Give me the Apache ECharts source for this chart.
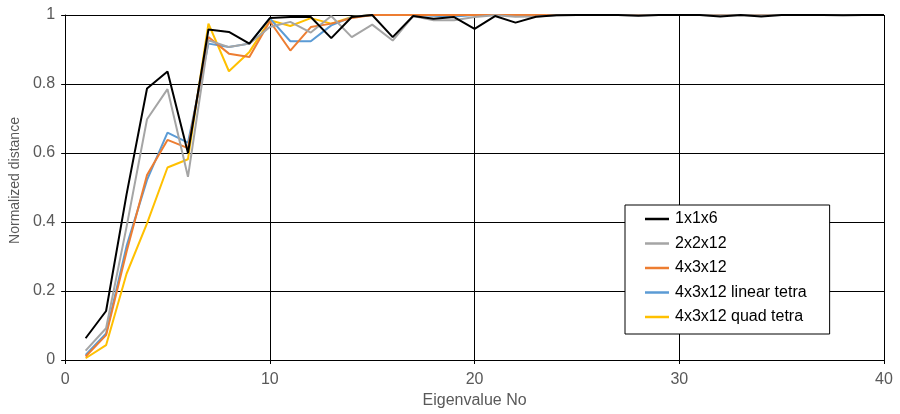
<!DOCTYPE html>
<html>
<head>
<meta charset="utf-8">
<script src="https://cdn.jsdelivr.net/npm/echarts@6/dist/echarts.min.js"></script>
<style>
  html, body { margin: 0; padding: 0; background: #fff; }
  #chart { width: 900px; height: 414px; }
</style>
</head>
<body>
<div id="chart"></div>
<script>
const eigenNo = [1,2,3,4,5,6,7,8,9,10,11,12,13,14,15,16,17,18,19,20,21,22,23,24,25,26,27,28,29,30,31,32,33,34,35,36,37,38,39,40];
const seriesNames = ['1x1x6', '2x2x12', '4x3x12', '4x3x12 linear tetra', '4x3x12 quad tetra'];
const s1x1x6 = [0.063,0.142,0.48,0.787,0.836,0.6,0.958,0.951,0.917,0.991,0.994,0.994,0.933,0.994,1.0,0.936,0.997,0.989,0.994,0.96,0.997,0.978,0.995,0.999,1,1,1,0.998,1,1,1,0.996,1,0.996,1,1,1,0.999,1,1];
const s2x2x12 = [0.027,0.092,0.386,0.698,0.785,0.531,0.927,0.907,0.917,0.965,0.98,0.949,0.997,0.936,0.972,0.926,0.997,0.985,0.985,0.994,0.999,0.995,0.996,0.999,1,1,1,0.999,1,1,1,0.999,1,0.999,1,1,1,1,1,1];
const s4x3x12 = [0.01,0.072,0.314,0.536,0.638,0.614,0.936,0.888,0.878,0.982,0.897,0.965,0.975,0.991,1,1,1,1,1,1,1,1,1,1,1,1,1,1,1,1,1,1,1,1,1,1,1,1,1,1];
const sLinear = [0.015,0.077,0.33,0.522,0.659,0.63,0.917,0.907,0.917,0.99,0.924,0.924,0.97,0.994,1,1,1,0.998,0.996,1,1,1,1,1,1,1,1,1,1,1,1,1,1,1,1,1,1,1,1,1];
const sQuad = [0.005,0.043,0.25,0.396,0.558,0.582,0.975,0.837,0.893,0.985,0.968,0.991,0.975,0.994,1,1,1,1,1,1,1,1,1,1,1,1,1,1,1,1,1,1,1,1,1,1,1,1,1,1];
const xTicks = [0, 10, 20, 30, 40];
const yTicks = [0, 0.2, 0.4, 0.6, 0.8, 1];

const colors = ['#000000', '#A5A5A5', '#ED7D31', '#5B9BD5', '#FFC000'];
const allData = [s1x1x6, s2x2x12, s4x3x12, sLinear, sQuad];
const font = 'Liberation Sans, Arial, sans-serif';
const textColor = '#595959';

const chart = echarts.init(document.getElementById('chart'), null, { renderer: 'canvas' });
chart.setOption({
  animation: false,
  backgroundColor: '#ffffff',
  grid: { left: 63, right: 16, top: 15, bottom: 54, containLabel: false },
  xAxis: {
    type: 'value', min: xTicks[0], max: xTicks[xTicks.length - 1], interval: 10,
    name: 'Eigenvalue No', nameLocation: 'middle', nameGap: 32,
    nameTextStyle: { fontFamily: font, fontSize: 16, color: textColor },
    axisLine: { show: true, lineStyle: { color: '#000', width: 1 } },
    axisTick: { show: true, length: 4, lineStyle: { color: '#000' } },
    axisLabel: { fontFamily: font, fontSize: 16, color: textColor, margin: 12 },
    splitLine: { show: true, lineStyle: { color: '#000', width: 1 } }
  },
  yAxis: {
    type: 'value', min: yTicks[0], max: yTicks[yTicks.length - 1], interval: 0.2,
    name: 'Normalized distance', nameLocation: 'middle', nameGap: 41,
    nameTextStyle: { fontFamily: font, fontSize: 14, color: textColor, padding: [0, 0, 0, 14] },
    axisLine: { show: true, lineStyle: { color: '#000', width: 1 } },
    axisTick: { show: true, length: 4, lineStyle: { color: '#000' } },
    axisLabel: { fontFamily: font, fontSize: 16, color: textColor, margin: 10,
      formatter: v => String(Math.round(v * 10) / 10) },
    splitLine: { show: true, lineStyle: { color: '#000', width: 1 } }
  },
  legend: {
    show: true, orient: 'vertical', left: 625, top: 205,
    data: seriesNames.map(n => ({ name: n, icon: 'rect' })),
    backgroundColor: '#fff',
    borderColor: '#000', borderWidth: 1,
    padding: [5, 23, 8, 20],
    itemGap: 6.5, itemWidth: 24, itemHeight: 2.5,
    textStyle: { fontFamily: font, fontSize: 16, lineHeight: 18, color: '#000', padding: [0, 0, 0, 1] }
  },
  series: seriesNames.map((name, i) => ({
    name: name,
    type: 'line',
    data: eigenNo.map((x, j) => [x, allData[i][j]]),
    symbol: 'none',
    showSymbol: false,
    lineStyle: { color: colors[i], width: 2 },
    itemStyle: { color: colors[i] },
    z: 10 - i,
    clip: false
  }))
});
</script>
</body>
</html>
